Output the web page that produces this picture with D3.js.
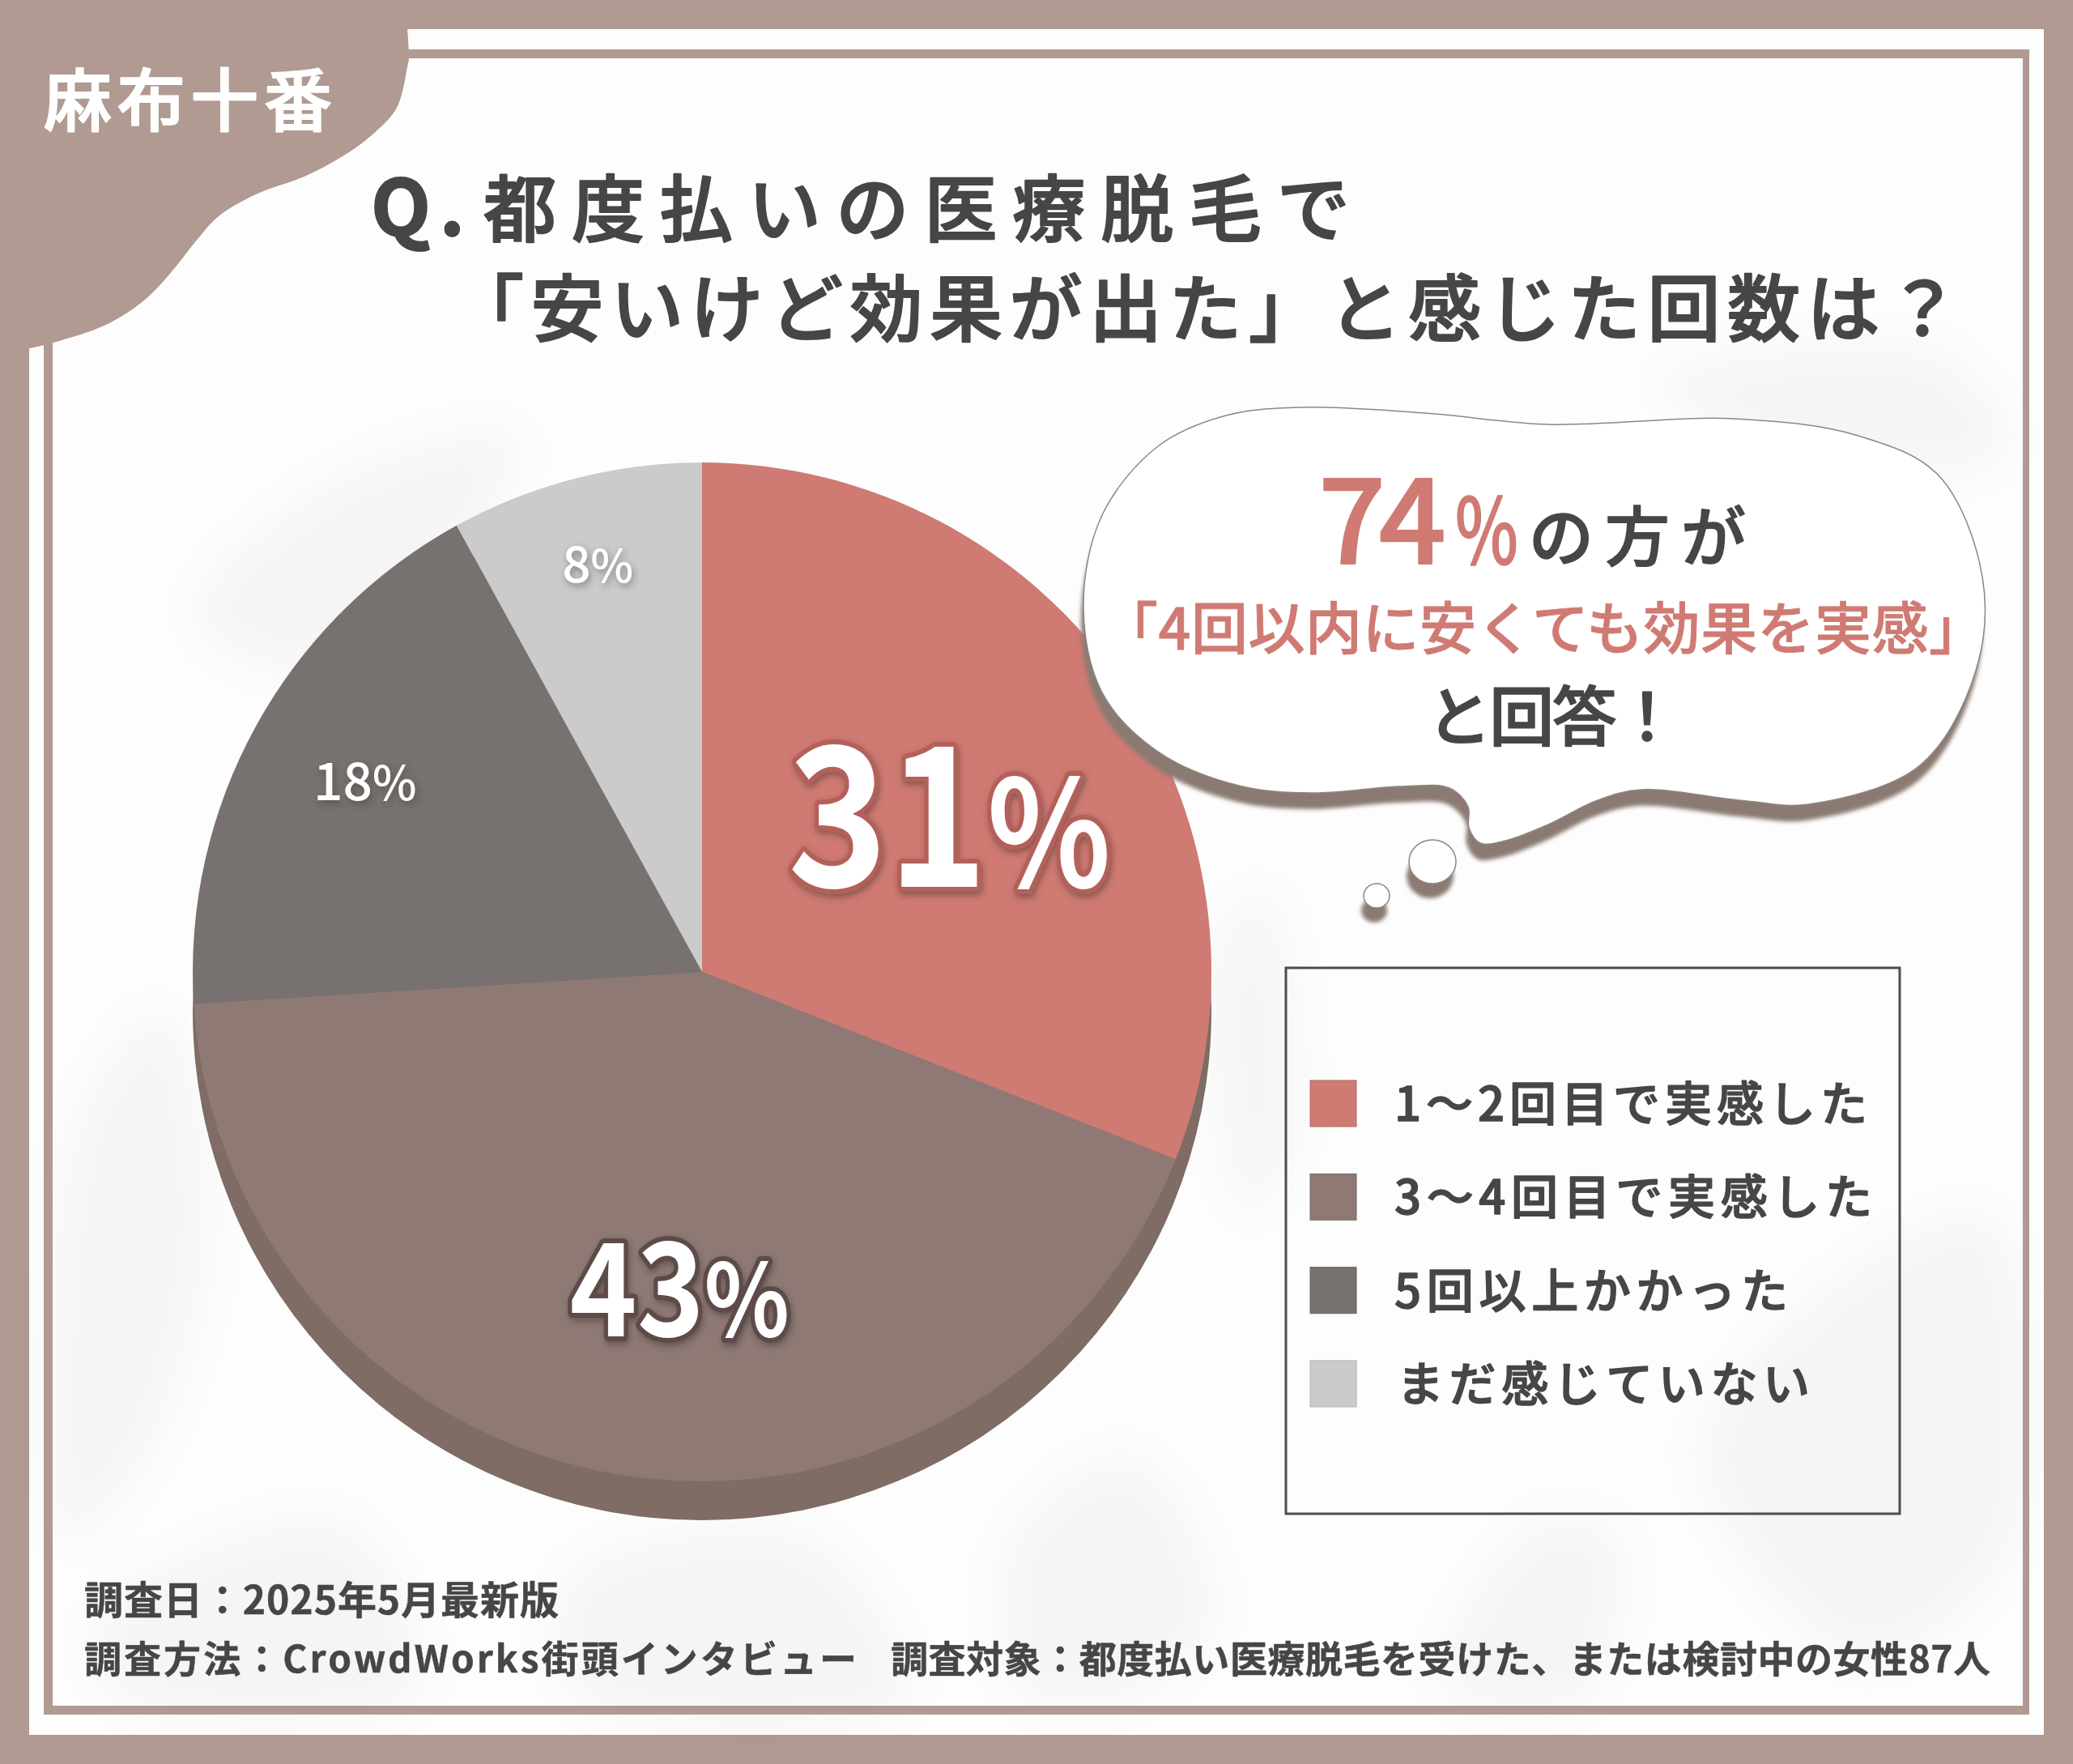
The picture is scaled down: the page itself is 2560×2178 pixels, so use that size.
<!DOCTYPE html>
<html>
<head>
<meta charset="utf-8">
<script src="https://cdn.jsdelivr.net/npm/d3@7"></script>
<style>
  html, body { margin: 0; padding: 0; background: #b09a91; }
  svg { display: block; }
  text { font-family: "Noto Sans CJK JP", "Noto Sans", sans-serif; }
</style>
</head>
<body>
<svg id="chart" width="2560" height="2178"></svg>
<script>
// chart values
const categories = ["1～2回目で実感した", "3～4回目で実感した", "5回以上かかった", "まだ感じていない"];
const sliceValues = [31, 43, 18, 8];
const sliceColors = ["#cf7a73", "#8e7975", "#77716f", "#cbcbcb"];

const WIDTH = 2560, HEIGHT = 2178;
const BROWN = "#b09a91", INK = "#464646", RED = "#cf7a73";

// pie layout
const CX = 867, CY = 1200, RADIUS = 629, DEPTH = 48;
const labelRadius = [362, 395, 475, 518];
const labelNudge = [[6, 12], [34, 2], [0, -6], [0, -2]];
const labelSqueeze = [0.87, 0.88, 1, 1];
const numberSize = [240, 160, 64, 62];
const percentSize = [182, 124, 58, 56];
const labelEdge = ["#b4605a", "#5d4c48", "none", "none"];

const svg = d3.select("#chart");
const defs = svg.append("defs");

defs.append("filter").attr("id", "soft").attr("x", "-30%").attr("y", "-30%").attr("width", "160%").attr("height", "160%")
  .append("feGaussianBlur").attr("stdDeviation", 28);
defs.append("filter").attr("id", "edge").attr("x", "-10%").attr("y", "-10%").attr("width", "120%").attr("height", "130%")
  .append("feGaussianBlur").attr("stdDeviation", 2.5);
const lift = defs.append("filter").attr("id", "lift").attr("x", "-20%").attr("y", "-20%").attr("width", "140%").attr("height", "140%");
lift.append("feDropShadow").attr("dx", 2).attr("dy", 4).attr("stdDeviation", 4).attr("flood-color", "#3a2e2b").attr("flood-opacity", 0.5);

// text helper, width is optional and stretches the letter spacing to fit
function put(parent, str, x, y, size, color, opts) {
  const o = opts || {};
  const t = parent.append("text")
    .attr("x", x).attr("y", y)
    .attr("font-size", size)
    .attr("font-weight", o.weight || 500)
    .attr("fill", color)
    .attr("stroke", color)
    .attr("stroke-width", o.stroke === undefined ? 1.5 : o.stroke)
    .attr("stroke-linejoin", "round")
    .text(str);
  if (o.width) t.attr("textLength", o.width).attr("lengthAdjust", "spacing");
  return t;
}

// page frame
svg.append("rect").attr("width", WIDTH).attr("height", HEIGHT).attr("fill", BROWN);
svg.append("rect").attr("x", 36).attr("y", 36).attr("width", 2488).attr("height", 2106).attr("fill", "#fdfdfd");

// faint leaf shadows behind everything
const blurLine = d3.line().curve(d3.curveCatmullRomClosed);
const shadows = [
  [[240, 760], [420, 590], [640, 540], [560, 700], [380, 830]],
  [[90, 1400], [200, 1250], [260, 1500], [180, 1800], [80, 1900]],
  [[1250, 1900], [1400, 1800], [1500, 2000], [1380, 2100], [1260, 2090]],
  [[1780, 2080], [1900, 1880], [2000, 1900], [1950, 2100]],
  [[2050, 470], [2400, 440], [2480, 560], [2200, 560]],
  [[2100, 1780], [2450, 1500], [2490, 1900], [2300, 2050]],
  [[120, 2000], [420, 1880], [520, 2090], [150, 2100]],
  [[700, 1950], [1000, 1900], [1120, 2100], [720, 2100]],
  [[1500, 1180], [1560, 1100], [1600, 1400], [1540, 1500]]
];
svg.append("g").attr("filter", "url(#soft)")
  .selectAll("path").data(shadows).join("path")
  .attr("d", d => blurLine(d))
  .attr("fill", "#000").attr("fill-opacity", 0.03);

// inner line of the frame
svg.append("path")
  .attr("fill-rule", "evenodd").attr("fill", BROWN)
  .attr("d", "M54,61H2506V2117H54Z M65,72V2106H2498V72Z");

// corner tag
const blobPoints = [[503, 36], [505, 72], [503, 83], [490, 133], [459, 167], [423, 193], [378, 217], [316, 240], [270, 267], [240, 300], [214, 333], [179, 370], [133, 400], [66, 423], [37, 430]];
const blob = d3.line().curve(d3.curveCatmullRom)(blobPoints);
svg.append("path").attr("d", "M0,0H503L" + blob.slice(1) + "L0,434Z").attr("fill", BROWN);
put(svg, "麻布十番", 54, 155, 84, "#fff", { width: 356, stroke: 2 });

// title
put(svg, "Q.", 458, 291, 96, INK, { weight: 700, width: 116, stroke: 2 });
put(svg, "都度払いの医療脱毛で", 597, 291, 90, INK, { width: 1070, stroke: 2 });
put(svg, "「安いけど効果が出た」と感じた回数は？", 557, 414, 90, INK, { width: 1863, stroke: 2 });

// pie, with a darker copy shifted down for the thickness
const pie = d3.pie().sort(null)(sliceValues);
const arc = d3.arc().innerRadius(0).outerRadius(RADIUS);
const g = svg.append("g").attr("transform", `translate(${CX},${CY})`);

g.append("circle").attr("cy", DEPTH).attr("r", RADIUS).attr("fill", "#7f6c64");
g.selectAll("path.slice").data(pie).join("path")
  .attr("class", "slice")
  .attr("d", arc)
  .attr("fill", (d, i) => sliceColors[i]);

const labels = g.selectAll("text.value").data(pie).join("text")
  .attr("class", "value")
  .attr("text-anchor", "middle")
  .attr("transform", (d, i) => {
    const c = d3.arc().innerRadius(labelRadius[i]).outerRadius(labelRadius[i]).centroid(d);
    const x = c[0] + labelNudge[i][0];
    const y = c[1] + labelNudge[i][1] + numberSize[i] * 0.36;
    return `translate(${x},${y}) scale(${labelSqueeze[i]},1)`;
  })
  .attr("fill", "#fff")
  .attr("font-weight", (d, i) => (i < 2 ? 700 : 500))
  .attr("stroke", (d, i) => labelEdge[i])
  .attr("stroke-width", (d, i) => (i < 2 ? 12 : 0))
  .attr("stroke-linejoin", "round")
  .attr("paint-order", "stroke")
  .attr("filter", "url(#lift)");
labels.append("tspan").attr("font-size", (d, i) => numberSize[i]).text(d => d.value);
labels.append("tspan").attr("font-size", (d, i) => percentSize[i]).text("%");

// thought bubble
const bubblePoints = [
  [1606, 503], [1760, 510], [1912, 524], [2142, 517], [2295, 538], [2394, 587], [2448, 712], [2440, 828],
  [2371, 945], [2234, 993], [2157, 989], [2027, 975], [1973, 988], [1912, 1018], [1859, 1038], [1828, 1041],
  [1814, 1022], [1813, 996], [1790, 973], [1729, 971], [1621, 979], [1530, 970], [1430, 928], [1361, 855],
  [1338, 748], [1361, 636], [1430, 551], [1514, 513]
];
const bubble = d3.line().curve(d3.curveCatmullRomClosed)(bubblePoints);
const bubbleDots = [[1769, 1064, 29, 27], [1700, 1106, 16, 15]];

const bubbleShadow = svg.append("g").attr("filter", "url(#edge)").attr("fill", "#8a7a72");
bubbleShadow.append("path").attr("d", bubble).attr("transform", "translate(-3,20)");
bubbleShadow.selectAll("ellipse").data(bubbleDots).join("ellipse")
  .attr("cx", d => d[0] - 3).attr("cy", d => d[1] + 18).attr("rx", d => d[2]).attr("ry", d => d[3]);

svg.append("path").attr("d", bubble).attr("fill", "#fff").attr("stroke", "#8f8680").attr("stroke-width", 1.5);
svg.selectAll("ellipse.dot").data(bubbleDots).join("ellipse")
  .attr("class", "dot")
  .attr("cx", d => d[0]).attr("cy", d => d[1]).attr("rx", d => d[2]).attr("ry", d => d[3])
  .attr("fill", "#fff").attr("stroke", "#8f8680").attr("stroke-width", 1.5);

put(svg, "74", 1628, 696, 146, RED, { stroke: 2, width: 158 });
// the % sign is narrower in the reference, squeeze it sideways
put(svg, "%", 0, 0, 112, RED, { stroke: 1.5 }).attr("transform", "translate(1797,696) scale(0.74,1)");
put(svg, "の方が", 1888, 692, 80, INK, { width: 268 });
put(svg, "「4回以内に安くても効果を実感」", 1360, 802, 70, RED, { width: 1092, stroke: 0.8 });
put(svg, "と回答！", 1762, 914, 80, INK, { width: 312 });

// legend
svg.append("rect")
  .attr("x", 1588).attr("y", 1195).attr("width", 758).attr("height", 674)
  .attr("fill", "none").attr("stroke", "#4d4d4d").attr("stroke-width", 3);

const legendY = d3.scalePoint().domain(categories).range([1334, 1680]);
const legendTextX = [1722, 1722, 1722, 1725];
const legendTextWidth = [584, 590, 486, 510];
const legend = svg.append("g");
legend.selectAll("rect").data(categories).join("rect")
  .attr("x", 1618).attr("y", d => legendY(d))
  .attr("width", 57).attr("height", 57)
  .attr("fill", (d, i) => sliceColors[i])
  .attr("stroke", (d, i) => d3.color(sliceColors[i]).darker(0.4))
  .attr("stroke-width", 1);
categories.forEach((c, i) => {
  put(legend, c, legendTextX[i], legendY(c) + 50, 58, INK, { width: legendTextWidth[i] });
});

// footer notes
put(svg, "調査日：2025年5月最新版", 104, 1993, 48, INK, { weight: 700, width: 586, stroke: 0.5 });
put(svg, "調査方法：CrowdWorks街頭インタビュー", 104, 2065, 46, INK, { weight: 700, width: 954, stroke: 0.5 });
put(svg, "調査対象：都度払い医療脱毛を受けた、または検討中の女性87人", 1100, 2065, 46, INK, { weight: 700, width: 1358, stroke: 0.5 });
</script>
</body>
</html>
